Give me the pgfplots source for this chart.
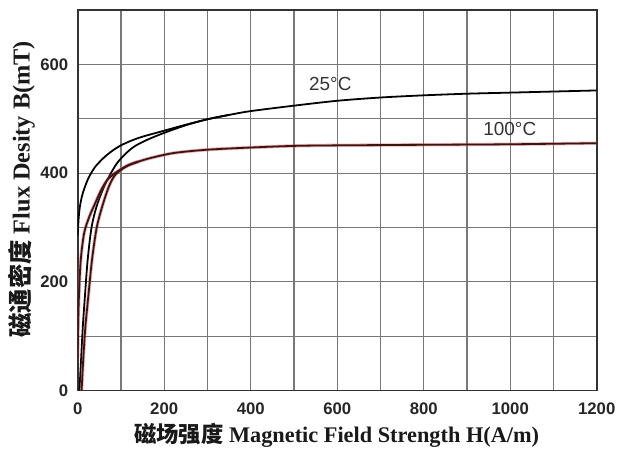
\documentclass[border=0pt]{standalone}
\usepackage{fontspec}
\setmainfont{Liberation Serif}
\newfontfamily\arial{Liberation Sans}
\newfontfamily\cjk{Noto Sans CJK SC}
\usepackage{pgfplots}
\pgfplotsset{compat=1.18}
\definecolor{gridc}{RGB}{120,120,120}
\definecolor{hotline}{RGB}{60,20,20}
\definecolor{halo}{RGB}{210,80,80}
\begin{document}
\begin{tikzpicture}
\begin{axis}[
  width=260.5pt, height=191pt, scale only axis,
  xmin=0, xmax=1200, ymin=0, ymax=700,
  xtick={0,200,...,1200}, minor xtick={100,300,...,1100},
  ytick={0,200,400,600}, minor ytick={100,300,500,700},
  grid=both,
  major grid style={draw=gridc, line width=0.55pt},
  minor grid style={draw=gridc, line width=0.55pt},
  major tick length=0pt, minor tick length=0pt,
  axis line style={draw=black!80, line width=0.9pt},
  /pgf/number format/1000 sep={},
  /pgf/number format/assume math mode=true,
  tick label style={font=\arial\bfseries\fontsize{8.4}{9}\selectfont, text=black!85},
  xticklabel style={yshift=-2.5pt},
  yticklabel style={xshift=-1.2pt},
  xlabel={{\cjk\bfseries 磁场强度} Magnetic Field Strength H(A/m)},
  ylabel={{\cjk\bfseries 磁通密度} Flux Desity B(mT)},
  xlabel style={font=\bfseries\fontsize{11.2}{12}\selectfont, text=black!90, at={(axis description cs:0.499,0)}, anchor=center, yshift=-22.5pt},
  ylabel style={font=\bfseries\fontsize{12.2}{13}\selectfont, text=black!90, at={(axis description cs:-0.108,0.529)}, anchor=center},
  clip=true,
]
% 25 C upper branch
\addplot[black, line width=0.9pt, smooth, tension=0.5] coordinates {
(0,285) (2,315) (5,338) (10,358) (16,373) (25,391) (40,411) (60,428) (80,441)
(100,451) (125,460) (150,467) (200,478) (250,489) (300,499) (350,507) (400,514) (500,524)
(600,533) (700,539) (800,543) (900,546) (1000,548) (1100,550) (1200,552)};
% 25 C lower branch
\addplot[black, line width=0.9pt, smooth, tension=0.5] coordinates {
(4,0) (8,60) (12,120) (17,177) (23,240) (32,300) (45,342) (65,382) (89,416)
(110,435) (131,449) (160,461) (200,474) (250,488) (300,499) (350,507)};
% 100 C branches: halo
\addplot[halo, opacity=0.45, line width=1.7pt, smooth, tension=0.5] coordinates {
(0,60) (1,120) (3,177) (7,240) (15,290) (27,320) (39,342) (55,370) (70,389) (90,402) (116,414) (140,421)};
\addplot[halo, opacity=0.45, line width=1.7pt, smooth, tension=0.5] coordinates {
(9,0) (13,60) (18,120) (25,177) (33,240) (44,300) (58,342) (72,375) (85,395)
(100,406) (116,414) (140,421) (170,428) (223,437) (300,443) (400,447)
(500,450) (600,451) (800,452) (1000,453) (1200,455)};
% 100 C branches: core
\addplot[hotline, line width=0.9pt, smooth, tension=0.5] coordinates {
(0,60) (1,120) (3,177) (7,240) (15,290) (27,320) (39,342) (55,370) (70,389) (90,402) (116,414) (140,421)};
\addplot[hotline, line width=0.9pt, smooth, tension=0.5] coordinates {
(9,0) (13,60) (18,120) (25,177) (33,240) (44,300) (58,342) (72,375) (85,395)
(100,406) (116,414) (140,421) (170,428) (223,437) (300,443) (400,447)
(500,450) (600,451) (800,452) (1000,453) (1200,455)};
\node[font=\arial\fontsize{9.5}{11}\selectfont, text=black!80] at (axis cs:584,564) {25°C};
\node[font=\arial\fontsize{9.5}{11}\selectfont, text=black!80] at (axis cs:999,482) {100°C};
\end{axis}
\path (-39pt,-29pt) rectangle (272pt,196pt);
\end{tikzpicture}
\end{document}
